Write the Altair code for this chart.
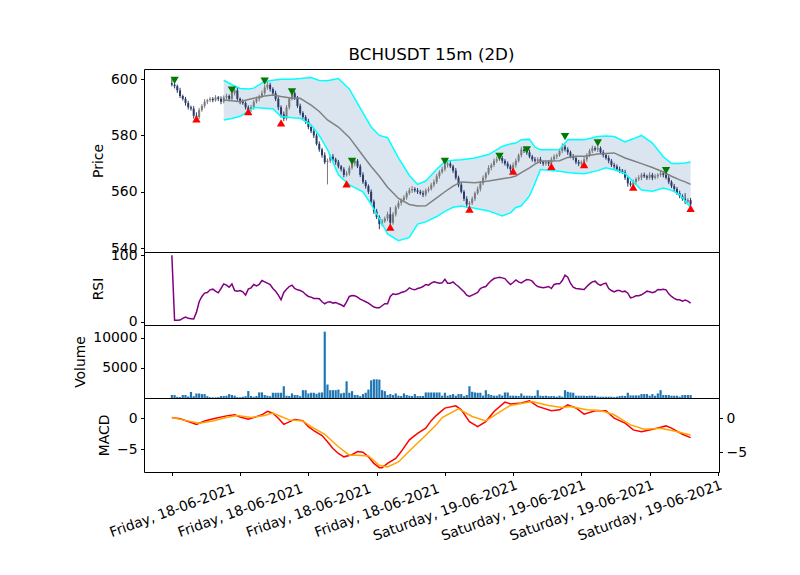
import altair as alt
import pandas as pd

# 15m candles, index 0..190 (close prices)
close = [
    598.0, 597.5, 596.0, 594.0, 593.0, 591.5, 590.0, 589.5, 587.0, 586.5,
    589.0, 590.5, 592.0, 592.5, 593.0, 592.5, 593.5, 593.0, 592.0, 593.5,
    594.0, 593.0, 595.0, 596.0, 593.0, 592.0, 591.5, 590.0, 589.0, 590.0,
    592.0, 593.0, 594.0, 595.0, 597.0, 598.0, 596.5, 595.0, 593.0, 590.0,
    587.5, 586.0, 590.0, 593.0, 595.0, 593.5, 590.5, 588.0, 586.5, 585.0,
    583.0, 581.5, 580.0, 577.0, 575.0, 573.0, 570.5, 571.0, 572.5, 571.5,
    570.5, 569.0, 568.0, 566.0, 566.5, 568.5, 570.0, 571.0, 569.0, 566.0,
    563.5, 562.0, 560.0, 556.5, 553.0, 551.0, 548.5, 549.5, 550.5, 552.0,
    549.0, 552.0, 554.5, 556.0, 557.0, 558.0, 559.5, 560.5, 561.0, 560.5,
    560.0, 559.5, 559.0, 560.5, 561.0, 562.5, 563.5, 565.5, 567.0, 568.0,
    569.5, 570.0, 569.0, 567.5, 565.0, 562.5, 560.0, 557.5, 555.5, 556.0,
    557.5, 559.5, 561.0, 563.0, 565.0, 566.5, 568.5, 569.5, 571.0, 571.5,
    572.0, 571.0, 570.0, 569.0, 568.0, 569.5, 571.0, 573.0, 575.0, 574.5,
    574.0, 572.5, 571.5, 571.0, 571.5, 570.5, 570.0, 570.5, 570.0, 571.5,
    572.5, 573.0, 574.5, 576.0, 575.0, 574.0, 572.5, 572.0, 570.5, 570.0,
    570.5, 571.5, 573.0, 574.5, 575.5, 575.0, 575.5, 574.0, 573.0, 572.0,
    571.0, 569.5, 569.0, 568.0, 567.5, 567.0, 565.0, 563.0, 562.5, 563.5,
    564.5, 565.0, 566.0, 565.5, 565.0, 566.0, 565.0, 565.5, 566.0, 566.5,
    566.0, 565.0, 563.5, 562.0, 561.0, 559.5, 558.5, 557.5, 556.5, 557.0,
    555.5,
]
first_open = 598.5

wick_up = [
    1.5, 0.8, 0.6, 0.9, 0.5, 0.7, 0.8, 0.6, 0.9, 1.2,
    0.8, 0.6, 0.9, 0.5, 0.7, 0.6, 0.8, 0.5, 0.9, 0.7,
    0.8, 0.6, 1.0, 0.7, 0.9, 0.5, 0.8, 0.6, 0.7, 0.9,
    0.6, 0.8, 0.5, 1.0, 0.9, 1.1, 0.7, 0.6, 0.9, 0.8,
    0.7, 1.0, 0.8, 0.6, 0.9, 0.7, 0.5, 0.8, 0.6, 0.7,
    0.9, 0.6, 0.8, 0.7, 0.9, 0.6, 1.0, 0.8, 0.7, 0.9,
    0.6, 0.8, 0.5, 0.7, 0.9, 0.8, 1.0, 0.7, 0.6, 0.8,
    0.9, 0.7, 0.6, 0.8, 0.7, 0.9, 0.6, 0.8, 0.7, 0.9,
    2.5, 0.8, 0.7, 0.9, 0.6, 0.8, 0.7, 0.9, 1.0, 0.6,
    0.8, 0.7, 0.9, 0.6, 0.8, 0.7, 0.9, 0.8, 0.6, 0.9,
    1.0, 0.7, 0.8, 0.6, 0.9, 0.7, 0.8, 0.6, 0.9, 0.7,
    0.8, 0.6, 0.9, 0.7, 0.8, 0.6, 0.9, 0.7, 0.8, 1.0,
    0.9, 0.7, 0.6, 0.8, 0.7, 0.9, 0.8, 0.6, 1.0, 0.8,
    0.7, 0.9, 0.6, 0.8, 0.7, 0.9, 0.6, 0.8, 0.7, 0.9,
    0.8, 0.6, 0.9, 1.2, 0.7, 0.8, 0.6, 0.9, 0.7, 0.8,
    0.6, 0.9, 0.7, 0.8, 0.9, 0.7, 1.0, 0.6, 0.8, 0.7,
    0.9, 0.6, 0.8, 0.7, 0.9, 0.6, 0.8, 0.7, 0.9, 0.8,
    0.6, 0.9, 0.7, 0.8, 0.6, 0.9, 0.7, 0.8, 0.6, 0.9,
    0.8, 0.7, 0.9, 0.6, 0.8, 0.7, 0.9, 0.6, 2.0, 0.7,
    0.8,
]

wick_dn = [
    0.6, 0.8, 0.9, 0.7, 0.6, 0.9, 0.8, 0.7, 1.0, 0.9,
    0.7, 0.6, 0.8, 0.9, 0.6, 0.7, 0.5, 0.8, 0.9, 0.6,
    0.7, 0.9, 0.6, 0.8, 0.7, 0.9, 0.6, 0.8, 1.0, 0.7,
    0.8, 0.6, 0.9, 0.7, 0.6, 0.8, 0.9, 0.7, 0.8, 1.0,
    1.2, 0.9, 0.7, 0.8, 0.6, 0.9, 0.7, 0.8, 0.6, 0.9,
    0.8, 0.7, 0.9, 0.6, 0.8, 0.9, 0.7, 7.9, 0.8, 0.6,
    0.9, 0.7, 0.8, 0.9, 0.6, 0.8, 0.7, 0.9, 0.6, 0.8,
    0.7, 0.9, 0.8, 0.6, 0.9, 0.7, 1.8, 0.8, 0.6, 0.9,
    0.9, 0.7, 0.8, 0.6, 0.9, 0.7, 0.8, 0.6, 0.9, 0.7,
    0.8, 0.6, 0.9, 0.7, 0.8, 0.6, 0.9, 0.7, 0.8, 0.6,
    0.7, 0.9, 0.6, 0.8, 0.7, 0.9, 0.6, 0.8, 1.2, 0.9,
    0.7, 0.8, 0.6, 0.9, 0.7, 0.8, 0.6, 0.9, 0.7, 0.8,
    0.6, 0.9, 0.7, 0.8, 1.0, 0.7, 0.9, 0.6, 0.8, 0.7,
    0.9, 0.6, 0.8, 0.7, 0.9, 0.6, 0.8, 0.7, 0.9, 0.6,
    0.7, 0.9, 0.6, 0.8, 0.7, 0.9, 0.6, 0.8, 0.7, 0.9,
    0.8, 0.6, 0.9, 0.7, 0.8, 0.6, 0.9, 0.7, 0.8, 0.6,
    0.9, 0.7, 0.8, 0.6, 0.9, 0.7, 0.8, 1.2, 0.7, 0.6,
    0.8, 0.7, 0.9, 0.6, 0.8, 0.7, 0.9, 0.6, 0.8, 0.7,
    0.9, 0.6, 0.8, 0.7, 0.9, 0.6, 0.8, 0.7, 0.9, 0.6,
    0.8,
]

volume = [
    490, 490, 200, 150, 490, 490, 250, 1000, 300, 750,
    750, 650, 650, 300, 120, 100, 100, 150, 330, 330,
    380, 650, 500, 380, 150, 120, 200, 300, 1150, 330,
    200, 330, 930, 930, 500, 380, 300, 870, 870, 870,
    870, 1950, 380, 330, 760, 490, 490, 300, 1300, 1300,
    760, 870, 870, 700, 900, 920, 11000, 2230, 1300, 1300,
    1300, 1400, 760, 870, 2770, 870, 1140, 490, 490, 300,
    650, 870, 1400, 2930, 3100, 3100, 3050, 1300, 1140, 490,
    650, 490, 760, 380, 325, 760, 500, 380, 325, 650,
    325, 325, 330, 920, 920, 920, 920, 920, 920, 380,
    870, 380, 500, 650, 380, 650, 650, 300, 500, 1950,
    1030, 920, 870, 870, 400, 1300, 650, 500, 380, 380,
    600, 400, 920, 920, 380, 380, 380, 330, 760, 380,
    380, 380, 330, 380, 1300, 380, 330, 380, 300, 330,
    300, 220, 380, 220, 1300, 1030, 920, 870, 380, 380,
    380, 380, 330, 380, 380, 380, 220, 220, 220, 220,
    220, 220, 150, 220, 330, 380, 330, 870, 430, 430,
    430, 430, 650, 650, 650, 380, 650, 380, 760, 1300,
    490, 490, 490, 380, 380, 380, 220, 490, 490, 490,
    490,
]

rsi = [
    100, 2, 2, 2.5, 5, 7, 5, 4.5, 4, 14,
    30, 38, 43, 44, 48, 49, 46, 43.5, 50, 57,
    55, 52, 57, 47, 46, 47, 45, 40, 49, 51,
    56, 54, 56, 62, 60, 58, 56, 50, 46, 40,
    33, 44, 49, 53, 55, 50, 48, 47, 45, 41,
    38, 37, 35, 35, 34.5, 30, 27, 29.5, 30, 28,
    29, 27, 25.5, 23, 30, 38, 39.5, 39, 37, 34,
    32, 30, 28, 25, 22, 21, 21, 24, 27, 27,
    38, 42, 41, 42, 44, 45, 47, 51, 49, 48,
    50, 51, 53, 56, 55, 58, 60, 59, 58, 58.5,
    64, 58, 58, 60, 56, 53, 49, 45, 40, 38,
    40, 42, 44, 50, 52, 53, 58, 62, 65, 66,
    67, 66, 65, 60, 56, 59, 63, 60, 58.5, 61,
    63.5, 63, 61, 56, 53, 52, 51, 52, 53, 50,
    56, 57, 57, 62, 70, 67, 58, 52, 50, 49.5,
    49, 48.5, 53, 57, 60, 61, 57, 54.6, 57, 58,
    50, 47, 45, 47, 47, 45, 46, 43, 36, 37,
    39, 39, 40.5, 43, 46, 45, 43.5, 45, 48.5, 48,
    49, 48, 42, 38, 35, 33, 33, 31, 32.5, 31,
    28,
]

# Bollinger bands (20) read at these candle indices
bb_idx = [19, 22, 25, 28, 30, 34, 37, 40, 44, 47, 51, 54, 57, 61, 65, 70, 73, 76,
          79, 83, 87, 90, 93, 97, 100, 103, 106, 111, 116, 121, 124, 126, 128, 131,
          133, 135, 138, 142, 145, 148, 151, 156, 159, 162, 166, 169, 172, 176, 180,
          183, 186, 188, 190]
bb_upper = [599.6, 598.0, 596.7, 596.5, 596.8, 599.2, 599.6, 600.0, 600.0, 600.2,
            600.6, 599.5, 599.4, 600.2, 596.5, 588.0, 583.0, 580.0, 579.2, 572.0,
            565.8, 562.6, 563.8, 568.0, 570.8, 571.2, 571.4, 572.0, 573.2, 576.1,
            577.0, 577.3, 578.5, 578.6, 575.8, 574.9, 574.9, 575.0, 578.5, 578.6,
            578.5, 579.6, 579.8, 579.6, 577.7, 578.8, 580.0, 577.3, 572.4, 570.0,
            570.0, 570.2, 570.6]
bb_mid = [592.6, 592.3, 592.0, 592.8, 593.2, 594.0, 594.4, 593.8, 593.2, 593.2,
          590.8, 588.5, 585.5, 583.0, 579.3, 572.8, 569.0, 565.5, 561.6, 557.6,
          555.5, 554.9, 555.0, 557.8, 560.0, 562.0, 563.5, 563.2, 563.8, 564.6,
          565.1, 565.6, 566.8, 568.5, 569.8, 570.8, 570.9, 571.0, 572.2, 572.6,
          572.6, 573.4, 573.6, 573.8, 572.0, 571.0, 570.0, 568.6, 567.0, 565.5,
          564.2, 563.5, 562.6]
bb_lower = [585.5, 586.0, 586.8, 588.5, 589.9, 589.7, 589.5, 586.7, 586.3, 586.1,
            583.8, 580.0, 575.0, 566.0, 562.4, 560.0, 555.5, 550.5, 545.0, 542.6,
            543.8, 548.5, 549.3, 551.2, 553.0, 554.5, 554.9, 554.1, 553.2, 551.4,
            552.5, 554.4, 555.0, 558.5, 563.0, 567.9, 567.6, 567.3, 566.8, 566.6,
            566.4, 567.5, 568.5, 567.8, 566.5, 563.5, 560.6, 560.2, 561.3, 560.5,
            559.0, 556.7, 554.4]

# MACD (left axis) and signal (right axis)
macd_idx = [0, 3, 6, 9, 12, 16, 20, 23, 25, 28, 30, 33, 35, 37, 39, 41, 43, 45, 48,
            50, 52, 55, 57, 59, 61, 63, 66, 68, 70, 72, 74, 76, 77, 79, 82, 84, 87,
            90, 93, 95, 97, 100, 104, 106, 109, 112, 115, 118, 122, 124, 128, 131,
            134, 139, 142, 145, 148, 151, 155, 159, 162, 166, 169, 172, 175, 178,
            181, 183, 187, 190]
macd_val = [0.1, -0.1, -0.55, -1.0, -0.45, 0.0, 0.37, 0.55, 0.2, -0.17, 0.1, 0.55,
            1.1, 0.8, 0.0, -1.0, -0.6, -0.2, -0.4, -1.37, -2.0, -2.8, -3.8, -4.9,
            -5.7, -6.25, -5.9, -5.4, -5.5, -6.25, -7.3, -8.0, -8.0, -7.3, -6.5,
            -5.4, -3.5, -2.45, -1.6, -0.4, 0.5, 1.63, 2.0, 1.35, -0.55, -1.37,
            -0.55, 1.08, 2.6, 2.3, 2.45, 2.8, 1.9, 1.2, 1.35, 2.17, 1.65, 0.65,
            1.2, 1.2, 0.0, -0.8, -1.9, -2.2, -1.9, -1.6, -1.25, -1.6, -2.6, -3.15]
signal_idx = [0, 4, 10, 15, 20, 24, 29, 34, 37, 40, 43, 48, 51, 56, 61, 65, 68, 72,
              76, 79, 83, 88, 93, 97, 99, 105, 110, 115, 120, 124, 132, 138, 143,
              146, 152, 157, 162, 168, 173, 179, 184, 190]
signal_val = [0.1, -0.25, -0.74, -0.4, 0.1, 0.38, 0.1, 0.38, 0.74, 0.24, -0.25,
              -0.4, -1.23, -2.35, -4.17, -5.4, -5.4, -5.5, -6.87, -7.1, -6.38,
              -4.4, -2.5, -0.88, 0.1, 1.37, 0.24, -0.4, 0.88, 1.85, 2.44, 1.85,
              1.56, 1.7, 1.22, 1.12, 0.49, -0.98, -1.62, -1.47, -1.87, -2.46]

# trade signals
sell_idx = [1, 22, 34, 44, 66, 100, 120, 130, 144, 156, 181]
sell_price = [599.6, 596.1, 599.3, 595.5, 570.8, 570.8, 572.6, 574.9, 579.6, 577.4, 567.5]
buy_idx = [9, 28, 40, 64, 80, 109, 125, 139, 151, 169, 190]
buy_price = [585.9, 588.5, 584.5, 562.8, 547.4, 553.8, 567.3, 569.0, 569.6, 561.6, 554.1]

tick_idx = [0, 25, 50, 75, 100, 125, 150, 175, 200]
tick_labels = ["Friday, 18-06-2021", "Friday, 18-06-2021", "Friday, 18-06-2021",
               "Friday, 18-06-2021", "Saturday, 19-06-2021", "Saturday, 19-06-2021",
               "Saturday, 19-06-2021", "Saturday, 19-06-2021", ""]

opens = [first_open] + close[:-1]
candles = pd.DataFrame({
    'idx': list(range(len(close))),
    'open': opens,
    'close': close,
    'high': [max(o, c) + w for o, c, w in zip(opens, close, wick_up)],
    'low': [min(o, c) - w for o, c, w in zip(opens, close, wick_dn)],
    'volume': volume,
    'rsi': rsi,
    'dir': ['up' if c >= o else 'down' for o, c in zip(opens, close)],
})
bands = pd.DataFrame({'idx': bb_idx, 'upper': bb_upper, 'mid': bb_mid, 'lower': bb_lower})
macd_df = pd.DataFrame({'idx': macd_idx, 'macd': macd_val})
signal_df = pd.DataFrame({'idx': signal_idx, 'signal': signal_val})
sells = pd.DataFrame({'idx': sell_idx, 'price': sell_price})
buys = pd.DataFrame({'idx': buy_idx, 'price': buy_price})

W = 575
X_DOMAIN = [-10.2, 200.4]

label_expr = " : ".join(f"datum.value == {v} ? '{t}'" for v, t in zip(tick_idx, tick_labels)) + " : ''"
bottom_axis = alt.Axis(values=tick_idx, labelExpr=label_expr, labelAngle=340,
                       labelAlign='center', labelBaseline='middle', labelPadding=35,
                       labelFlush=False, labelOverlap=False)


def x_enc(field='idx:Q', axis=None):
    return alt.X(field, scale=alt.Scale(domain=X_DOMAIN, nice=False, zero=False),
                 axis=axis, title=None)


price_scale = alt.Scale(domain=[538.6, 603.6], nice=False, zero=False)


def y_price(field):
    return alt.Y(field, scale=price_scale, axis=alt.Axis(values=[540, 560, 580, 600]),
                 title='Price')


dir_color = alt.Color('dir:N', scale=alt.Scale(domain=['up', 'down'],
                                               range=['#7a7a7a', '#2b3a67']), legend=None)

band = alt.Chart(bands).mark_area(color='#dbe5f0', opacity=1).encode(
    x=x_enc(), y=y_price('lower:Q'), y2='upper:Q')
wicks = alt.Chart(candles).mark_rule(strokeWidth=1).encode(
    x=x_enc(), y=y_price('low:Q'), y2='high:Q', color=dir_color)
bodies = alt.Chart(candles).mark_rule(strokeWidth=2).encode(
    x=x_enc(), y=y_price('open:Q'), y2='close:Q', color=dir_color)
mid = alt.Chart(bands).mark_line(color='#808080', strokeWidth=1.5).encode(
    x=x_enc(), y=y_price('mid:Q'))
upper = alt.Chart(bands).mark_line(color='#00ffff', strokeWidth=1.5).encode(
    x=x_enc(), y=y_price('upper:Q'))
lower = alt.Chart(bands).mark_line(color='#00ffff', strokeWidth=1.5).encode(
    x=x_enc(), y=y_price('lower:Q'))
sell_pts = alt.Chart(sells).mark_point(shape='triangle-down', filled=True, size=70,
                                       color='#007a00', opacity=1).encode(
    x=x_enc(), y=y_price('price:Q'))
buy_pts = alt.Chart(buys).mark_point(shape='triangle-up', filled=True, size=70,
                                     color='#ff0000', opacity=1).encode(
    x=x_enc(), y=y_price('price:Q'))

price = alt.layer(band, wicks, bodies, mid, upper, lower, sell_pts, buy_pts).properties(
    width=W, height=183,
    title=alt.TitleParams('BCHUSDT 15m (2D)', fontSize=16.7, fontWeight='normal',
                          color='black', anchor='middle', frame='group', offset=5))

rsi_chart = alt.Chart(candles).mark_line(color='#800080', strokeWidth=1.5).encode(
    x=x_enc(),
    y=alt.Y('rsi:Q', scale=alt.Scale(domain=[-5, 105], nice=False, zero=False),
            axis=alt.Axis(values=[0, 100]), title='RSI'),
).properties(width=W, height=73)

vol_chart = alt.Chart(candles).transform_calculate(
    x0='datum.idx - 0.4', x1='datum.idx + 0.4'
).mark_bar(color='#1f77b4').encode(
    x=x_enc('x0:Q'), x2='x1:Q',
    y=alt.Y('volume:Q', scale=alt.Scale(domain=[0, 12100], nice=False),
            axis=alt.Axis(values=[5000, 10000], format='d'), title='Volume'),
    y2=alt.datum(0),
).properties(width=W, height=73)

macd_line = alt.Chart(macd_df).mark_line(color='#ff0000', strokeWidth=1.5).encode(
    x=x_enc(axis=bottom_axis),
    y=alt.Y('macd:Q', scale=alt.Scale(domain=[-8.7, 3.26], nice=False, zero=False),
            axis=alt.Axis(values=[-5, 0]), title='MACD'))
signal_line = alt.Chart(signal_df).mark_line(color='#ffa500', strokeWidth=1.5).encode(
    x=x_enc(axis=bottom_axis),
    y=alt.Y('signal:Q', scale=alt.Scale(domain=[-7.85, 2.94], nice=False, zero=False),
            axis=alt.Axis(values=[-5, 0], orient='right'), title=None))
macd_chart = alt.layer(macd_line, signal_line).resolve_scale(y='independent').properties(
    width=W, height=74)

chart = alt.vconcat(price, rsi_chart, vol_chart, macd_chart, spacing=0, bounds='flush').properties(
    padding={'left': 65, 'top': 38, 'right': 5, 'bottom': 5}
).configure(font='DejaVu Sans').configure_axis(
    labelFontSize=13.9, titleFontSize=13.9, titleFontWeight='normal',
    labelColor='black', titleColor='black', tickColor='black', tickSize=3.5,
    labelPadding=3.5, titlePadding=5, grid=False, domain=False,
    labelFont='DejaVu Sans', titleFont='DejaVu Sans',
).configure_view(stroke='black', strokeWidth=1)

chart.save("out.html", embed_options={"renderer": "svg", "actions": False})
